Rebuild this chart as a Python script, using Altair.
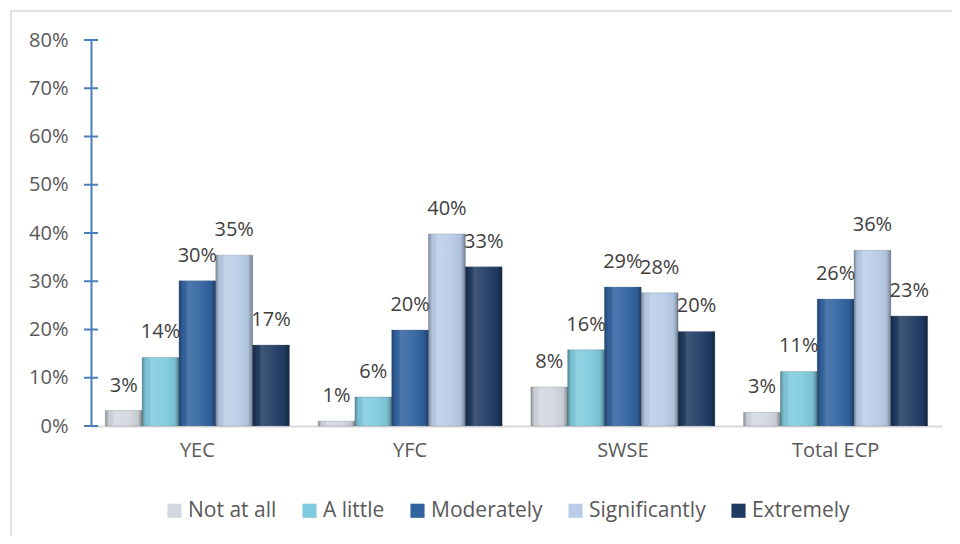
import altair as alt
import pandas as pd

categories = ["YEC", "YFC", "SWSE", "Total ECP"]
series = ["Not at all", "A little", "Moderately", "Significantly", "Extremely"]
yec = [3.2, 14.2, 30.1, 35.4, 16.8]
yfc = [1.0, 6.0, 19.9, 39.8, 33.0]
swse = [8.1, 15.8, 28.8, 27.6, 19.6]
total_ecp = [2.8, 11.3, 26.3, 36.4, 22.8]
y_ticks = [0, 10, 20, 30, 40, 50, 60, 70, 80]
colors = ["#d3d8e0", "#7fcbdf", "#30629f", "#b9cde8", "#1f3b62"]

values_by_cat = [yec, yfc, swse, total_ecp]
rows = []
for c, vals in zip(categories, values_by_cat):
    for s, v in zip(series, vals):
        rows.append({"cat": c, "series": s, "value": v})
df = pd.DataFrame(rows)

FONT = "Open Sans"

x_enc = alt.X(
    "cat:N", sort=categories,
    scale=alt.Scale(paddingInner=0.135, paddingOuter=0.0675),
    axis=alt.Axis(title=None, domainColor="#d9d9d9", domainWidth=2, ticks=False,
                  labelAngle=0, labelFont=FONT, labelFontSize=20, labelColor="#595959",
                  labelPadding=14, grid=False),
)
xo_enc = alt.XOffset("series:N", sort=series, scale=alt.Scale(paddingInner=0, paddingOuter=0))
y_enc = alt.Y(
    "value:Q", scale=alt.Scale(domain=[0, 80], nice=False),
    axis=alt.Axis(title=None, values=y_ticks, labelExpr="datum.value + '%'",
                  domainColor="#4a7ebb", domainWidth=2, ticks=False, grid=False,
                  labelFont=FONT, labelFontSize=20, labelColor="#595959", labelPadding=23),
)

base = alt.Chart(df)

bars = base.mark_bar(stroke="#6b7480", strokeWidth=0.6, strokeOpacity=0.5).encode(
    x=x_enc, xOffset=xo_enc, y=y_enc,
    color=alt.Color("series:N", sort=series,
                    scale=alt.Scale(domain=series, range=colors),
                    legend=alt.Legend(title=None, orient="none", direction="horizontal",
                                      legendX=73, legendY=460,
                                      symbolType="square", symbolSize=200,
                                      symbolStrokeWidth=0, labelFont=FONT,
                                      labelFontSize=21, labelColor="#595959",
                                      labelOffset=3, columnPadding=22, padding=0)),
)

shade = base.mark_bar(
    fill=alt.Gradient(
        gradient="linear", x1=0, x2=1, y1=0, y2=0,
        stops=[
            alt.GradientStop(offset=0, color="rgba(0,0,0,0.32)"),
            alt.GradientStop(offset=0.1, color="rgba(0,0,0,0.04)"),
            alt.GradientStop(offset=0.25, color="rgba(255,255,255,0.14)"),
            alt.GradientStop(offset=0.6, color="rgba(255,255,255,0.06)"),
            alt.GradientStop(offset=0.88, color="rgba(0,0,0,0.06)"),
            alt.GradientStop(offset=1, color="rgba(0,0,0,0.38)"),
        ],
    )
).encode(x=x_enc, xOffset=xo_enc, y=y_enc)

labels = base.transform_calculate(
    label="format(datum.value, '.0f') + '%'"
).mark_text(font=FONT, fontSize=20, color="#404040", baseline="alphabetic", dy=-19).encode(
    x=x_enc, xOffset=xo_enc, y=y_enc, text="label:N"
)

tick_df = pd.DataFrame({"value": y_ticks})
ticks = alt.Chart(tick_df).mark_rule(color="#4a7ebb", strokeWidth=2).encode(
    y=alt.Y("value:Q"), x=alt.value(-7), x2=alt.value(7)
)

frame = alt.Chart(pd.DataFrame({"k": [0]})).mark_rect(
    fill="transparent", stroke="#d9d9d9", strokeWidth=1.5
).encode(x=alt.value(-80), x2=alt.value(900), y=alt.value(-29), y2=alt.value(540))

chart = alt.layer(frame, bars, shade, labels, ticks).properties(
    width=851, height=386,
    autosize=alt.AutoSizeParams(type="none"),
    padding={"left": 83, "top": 32, "right": 10, "bottom": 110},
).configure_view(stroke=None)

chart.save("out.html", embed_options={"renderer": "svg", "actions": False})
